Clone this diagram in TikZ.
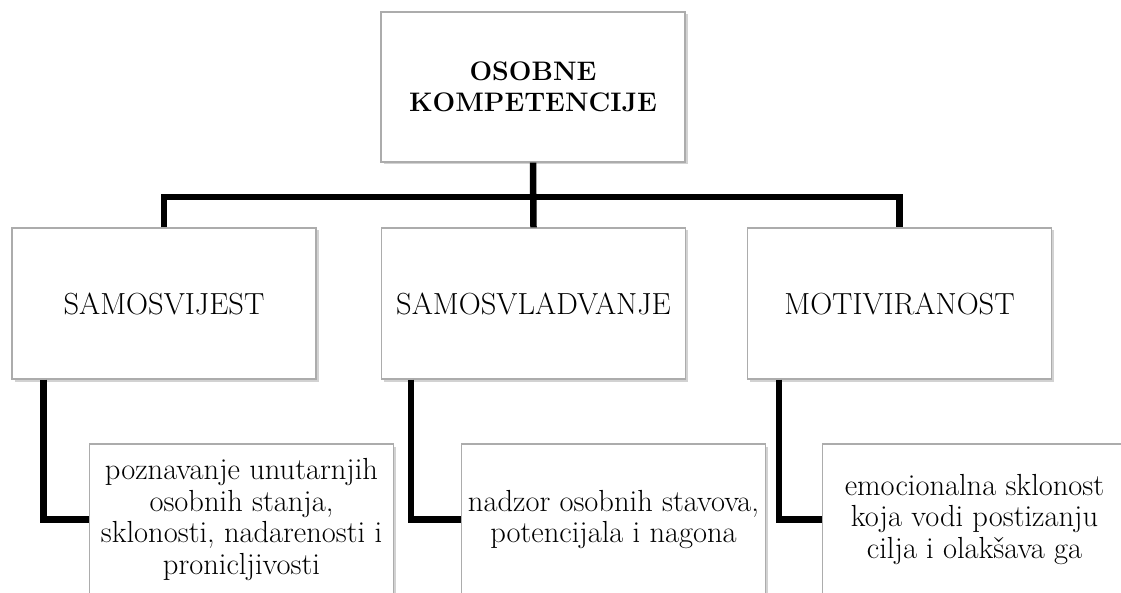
\documentclass[tikz,border=0pt]{standalone}
\usetikzlibrary{shadows,calc}
\begin{document}
\begin{tikzpicture}[x=1pt,y=-1pt,
  box/.style={draw=gray!65, line width=1.3pt, fill=white,
    minimum width=304pt, minimum height=151pt, inner sep=1pt,
    align=center, font=\rmfamily\fontsize{30.5}{31.7}\selectfont,
    drop shadow={shadow xshift=2.5pt, shadow yshift=-2.5pt, opacity=0.35, fill=gray}},
  conn/.style={line width=6.5pt, black}]
\clip (0,0) rectangle (1121,593);
\fill[white] (0,0) rectangle (1121,593);
\node[box, minimum height=150pt, font=\rmfamily\bfseries\fontsize{26.8}{31}\selectfont] (top) at (533,87) {OSOBNE\\KOMPETENCIJE};
\node[box] (b1) at (164,303.5) {SAMOSVIJEST};
\node[box] (b2) at (533.5,303.5) {SAMOSVLADVANJE};
\node[box] (b3) at (899.5,303.5) {MOTIVIRANOST};
\node[box] (c1) at (241.5,519.5) {poznavanje unutarnjih\\osobnih stanja,\\sklonosti, nadarenosti i\\pronicljivosti};
\node[box] (c2) at (613.5,519.5) {nadzor osobnih stavova,\\potencijala i nagona};
\node[box] (c3) at (974.5,519.5) {emocionalna sklonost\\koja vodi postizanju\\cilja i olakšava ga};
\coordinate (bus) at (533,197);
\draw[conn] (top.south) -- (b2.north);
\draw[conn] (b1.north) -- (b1.north |- bus) -- (b3.north |- bus) -- (b3.north);
\coordinate (e1) at ($(b1.south west)+(32,0)$);
\coordinate (e2) at ($(b2.south west)+(30,0)$);
\coordinate (e3) at ($(b3.south west)+(32,0)$);
\draw[conn] (e1) |- (c1.west);
\draw[conn] (e2) |- (c2.west);
\draw[conn] (e3) |- (c3.west);
\end{tikzpicture}
\end{document}
